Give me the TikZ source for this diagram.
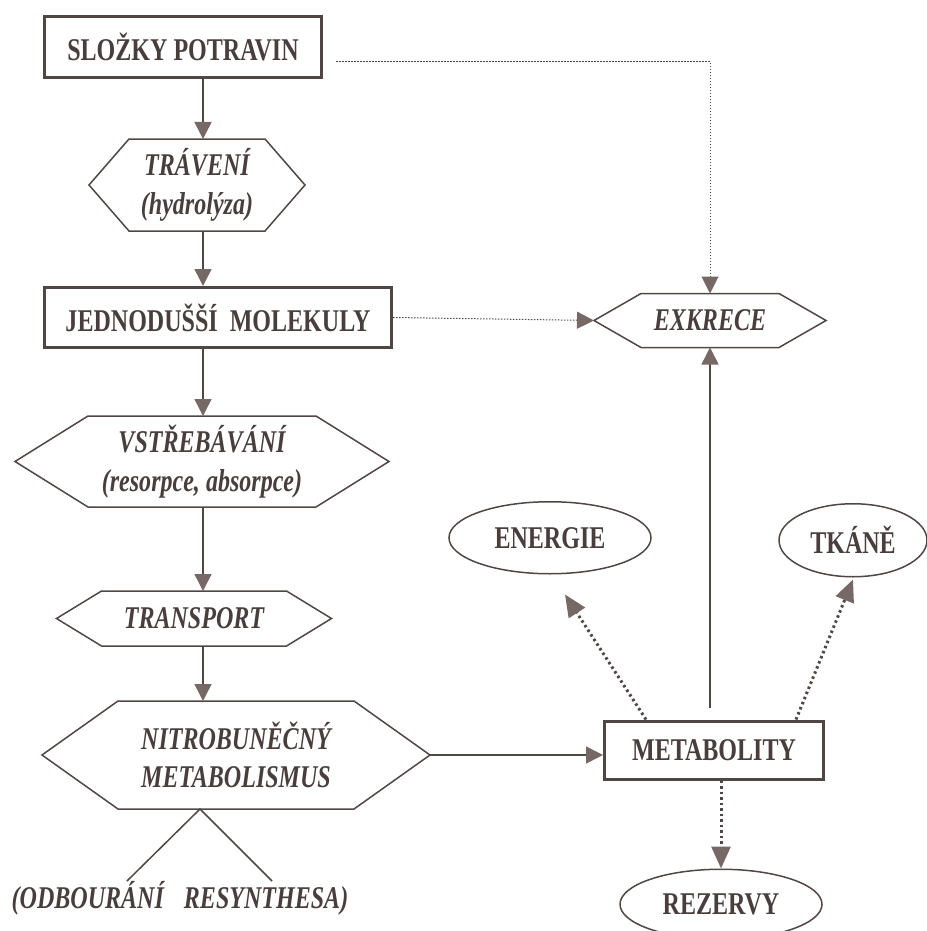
\documentclass[tikz,border=0pt]{standalone}
\usepackage{fontspec}
\setmainfont{Liberation Serif}[FakeStretch=0.76]
\usepackage{tikz}
\usetikzlibrary{shapes.geometric,arrows.meta,positioning,calc}

\definecolor{ink}{RGB}{80,70,68}
\definecolor{tipcol}{RGB}{118,104,100}
\definecolor{txt}{RGB}{72,62,60}

\begin{document}
\begin{tikzpicture}[
    node distance=12mm,
    font=\fontsize{18}{22}\selectfont\bfseries,
    text=txt,
    box/.style={rectangle, draw=ink, line width=0.6mm, minimum height=12mm, text centered},
    hexa/.style={rectangle, outer sep=0pt, align=center, font=\fontsize{18}{22}\selectfont\bfseries\itshape},
    oval/.style={ellipse, draw=ink, line width=0.3mm, minimum width=40.4mm, minimum height=14.4mm},
    arrow/.style={-{Triangle[length=3.4mm,width=3.4mm,color=tipcol]}, draw=ink, line width=0.3mm},
    dots/.style={arrow, line width=0.2mm, dash pattern=on 0.3mm off 0.3mm},
    thickdots/.style={-{Triangle[length=4.4mm,width=3.8mm,color=tipcol]}, draw=ink, line width=0.6mm, dash pattern=on 0.5mm off 0.6mm}
]
    \useasboundingbox (0,0) rectangle (185.2mm,-186.2mm);

    % Main chain
    \node[box, minimum width=55.4mm, minimum height=12.2mm] (slozky) at (36.6mm,-9.4mm) {SLOŽKY POTRAVIN};
    \node[hexa, minimum width=43.2mm, minimum height=18.4mm, below=12mm of slozky, xshift=2.8mm] (traveni) {TRÁVENÍ\\(hydrolýza)};
    \node[box, minimum width=69.4mm, below=11mm of traveni, xshift=4.2mm] (jedn) {JEDNODUŠŠÍ~ MOLEKULY};
    \node[hexa, minimum width=74.8mm, minimum height=18.2mm, below=13.4mm of jedn, xshift=-3.2mm] (vstreb) {VSTŘEBÁVÁNÍ\\(resorpce, absorpce)};
    \node[hexa, minimum width=55mm, minimum height=11mm, below=16.8mm of vstreb, xshift=-1.6mm] (transport) {TRANSPORT};
    \node[hexa, minimum width=77.6mm, minimum height=21.6mm, below=11mm of transport, xshift=8.4mm] (nitro) {NITROBUNĚČNÝ\\METABOLISMUS};

    % Right side
    \node[box, minimum width=43.8mm, minimum height=11.6mm, right=34.6mm of nitro, yshift=1mm] (metab) {METABOLITY};
    \node[hexa, minimum width=46.4mm, minimum height=10.8mm, above=74.4mm of metab, xshift=-0.8mm] (exkrece) {EXKRECE};
    \node[oval, above=29mm of metab, xshift=-32.8mm] (energie) {ENERGIE};
    \node[oval, minimum width=29.6mm, minimum height=14.6mm, above=28.4mm of metab, xshift=27.8mm] (tkane) {TKÁNĚ};
    \node[oval, minimum height=14mm, below=17.6mm of metab, xshift=1.4mm] (rezervy) {REZERVY};

    % Hexagon outlines
    \foreach \n/\s in {traveni/8mm, vstreb/14.6mm, transport/9mm, nitro/15.2mm, exkrece/9.4mm}
        \draw[draw=ink, line width=0.3mm] (\n.west) -- ([xshift=\s]\n.north west) -- ([xshift=-\s]\n.north east) -- (\n.east) -- ([xshift=-\s]\n.south east) -- ([xshift=\s]\n.south west) -- cycle;

    % Fork below
    \coordinate (fork) at ([xshift=-7.2mm]nitro.south);
    \coordinate (odbL) at ($(fork)+(-14.6mm,-14.4mm)$);
    \coordinate (odbR) at ($(fork)+(14.4mm,-14.4mm)$);
    \draw[ink, line width=0.3mm] (odbL) -- (fork) -- (odbR);
    \node[hexa] (odb) at ($(fork)+(-4mm,-17.8mm)$) {(ODBOURÁNÍ\hspace{4mm}RESYNTHESA)};

    % Arrows
    \coordinate (spine) at ([xshift=4mm]slozky.south);
    \draw[arrow] (spine |- slozky.south) -- (spine |- traveni.north);
    \draw[arrow] (spine |- traveni.south) -- (spine |- jedn.north);
    \draw[arrow] (spine |- jedn.south) -- (spine |- vstreb.north);
    \draw[arrow] (spine |- vstreb.south) -- (spine |- transport.north);
    \draw[arrow] (spine |- transport.south) -- (spine |- nitro.north);
    \draw[arrow] (nitro.east) -- (nitro.east -| metab.west);
    \draw[arrow] ($(metab.north -| exkrece.south)+(0,2.4mm)$) -- (exkrece.south);
    \draw[dots] ([xshift=2.6mm,yshift=-3mm]slozky.east) -| (exkrece.north);
    \draw[dots] (jedn.east) -- (exkrece.west);
    \draw[thickdots] ([xshift=8.6mm]metab.north west) -- ([xshift=3mm,yshift=-4mm]energie.south);
    \draw[thickdots] ([xshift=-5.8mm]metab.north east) -- ([yshift=-0.4mm]tkane.south);
    \draw[thickdots] ([xshift=1.4mm]metab.south) -- (rezervy.north);
\end{tikzpicture}
\end{document}
